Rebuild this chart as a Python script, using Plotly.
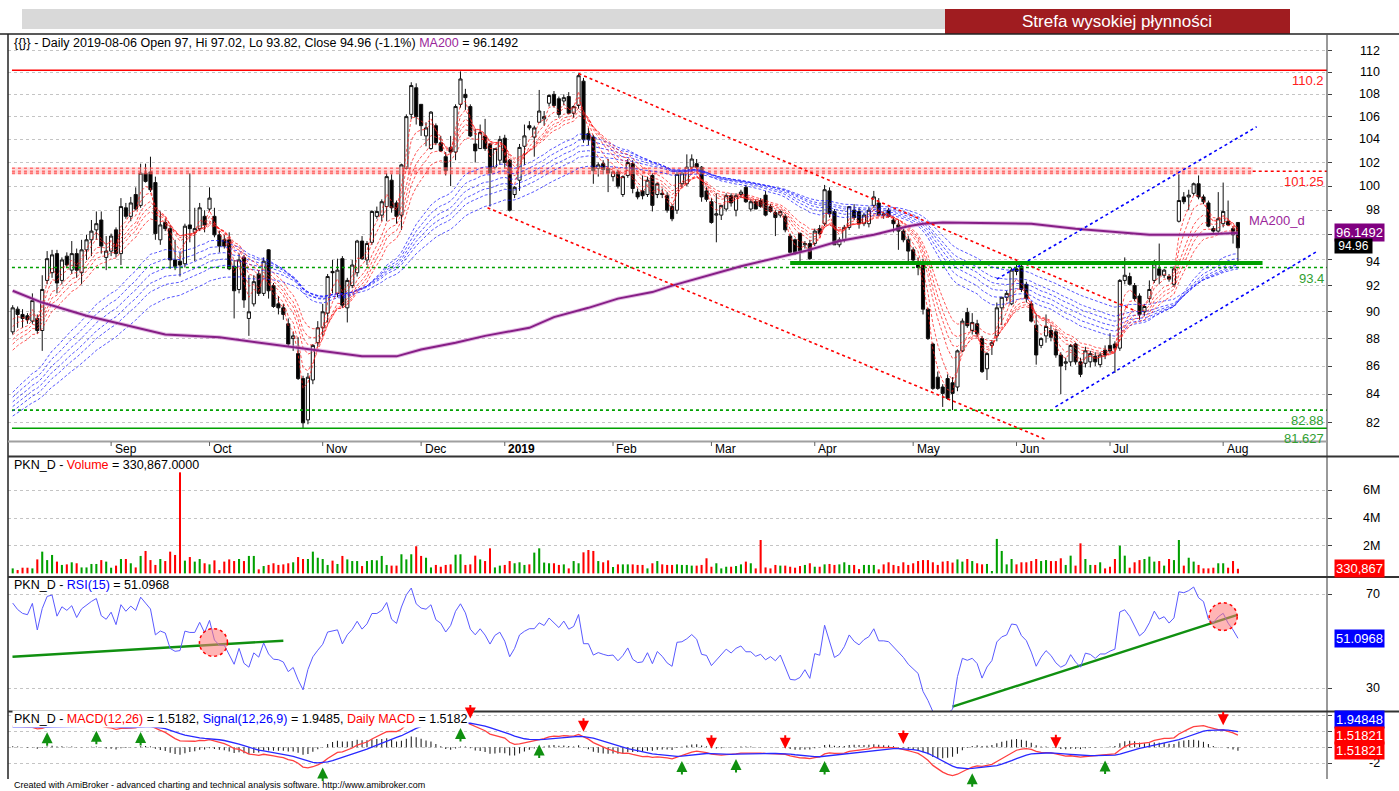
import math
import pandas as pd
import plotly.graph_objects as go

W, H = 1399, 791

# ------------------------------------------------------------------ data
open_ = [
 88.5, 90.2, 89.8, 89.7, 89.3, 89.5, 88.6, 92.4, 93.0, 94.5,
 92.4, 94.3, 93.2, 94.5, 93.0, 94.8, 95.6, 96.4, 97.2, 94.2,
 94.7, 96.4, 94.5, 98.2, 97.5, 99.3, 98.4, 101.1, 101.2, 100.3,
 95.6, 97.0, 96.5, 94.0, 93.9, 93.7, 96.8, 96.2, 96.5, 97.5,
 98.1, 97.5, 96.0, 95.6, 95.6, 93.5, 91.7, 94.2, 89.5, 90.6,
 92.9, 91.4, 94.8, 92.0, 90.6, 90.3, 89.1, 88.0, 86.9, 85.1,
 82.2, 85.0, 87.7, 88.8, 89.9, 93.1, 91.4, 94.1, 90.3, 92.0,
 93.0, 95.5, 94.0, 95.4, 97.5, 97.6, 98.3, 100.5, 98.6, 97.6,
 101.5, 106.2, 108.6, 107.1, 104.3, 103.2, 105.2, 103.7, 102.5, 103.3,
 102.9, 107.1, 108.0, 106.9, 103.6, 103.2, 104.3, 103.6, 101.6, 102.2,
 104.1, 102.2, 99.3, 100.5, 103.4, 105.2, 104.2, 105.5, 105.8, 107.2,
 108.0, 107.6, 107.4, 107.8, 106.3, 107.0, 109.2, 104.5, 104.2, 101.5,
 101.9, 101.5, 100.8, 101.2, 99.3, 100.9, 101.9, 99.5, 99.6, 99.3,
 100.9, 99.3, 99.4, 99.2, 98.3, 98.0, 100.2, 100.2, 101.6, 101.9,
 101.6, 99.6, 98.7, 97.6, 97.6, 98.1, 99.2, 98.0, 99.3, 99.9,
 98.1, 98.7, 98.8, 99.25, 98.3, 97.8, 97.6, 97.5, 95.9, 95.6,
 96.1, 95.2, 95.3, 95.3, 96.5, 96.9, 99.6, 97.9, 95.2, 95.6,
 96.6, 98.0, 97.9, 96.9, 96.9, 98.4, 98.6, 97.7, 98.0, 97.2,
 96.8, 96.3, 95.6, 94.8, 93.8, 93.8, 90.2, 87.6, 85.2, 84.5,
 85.1, 84.8, 84.5, 87.1, 89.95, 88.6, 89.1, 88.0, 85.8, 87.5,
 88.2, 90.3, 91.1, 90.6, 93.3, 93.5, 92.1, 90.6, 89.0, 87.5,
 88.2, 88.6, 88.5, 86.8, 86.2, 86.3, 87.6, 86.3, 86.2, 86.3,
 86.7, 86.1, 87.15, 87.5, 87.6, 87.3, 92.4, 92.7, 92.0, 91.2,
 90.0, 91.0, 92.4, 93.3, 92.8, 92.7, 92.1, 97.1, 99.1, 99.1,
 99.4, 100.2, 99.1, 98.6, 96.5, 96.3, 96.9, 97.1, 96.5, 97.0,
]
high = [
 90.5, 90.4, 90.2, 89.9, 91.4, 89.8, 92.8, 94.7, 94.8, 94.8,
 94.2, 94.6, 95.5, 94.9, 95.6, 96.0, 97.2, 97.9, 97.9, 95.9,
 96.1, 96.6, 99.0, 98.6, 99.1, 99.9, 101.9, 101.9, 102.5, 100.8,
 97.9, 97.3, 96.8, 95.6, 94.6, 96.9, 101.1, 98.2, 98.6, 98.0,
 99.9, 98.2, 96.3, 96.0, 96.2, 94.0, 94.5, 94.4, 92.8, 92.8,
 93.2, 94.2, 94.85, 92.2, 91.2, 90.6, 89.5, 88.5, 88.1, 85.3,
 85.5, 87.6, 89.3, 90.6, 92.9, 94.0, 94.1, 94.3, 92.6, 94.0,
 95.6, 95.9, 95.5, 98.0, 98.3, 98.9, 101.1, 101.0, 98.8, 101.9,
 106.2, 109.1, 109.0, 107.1, 105.5, 106.5, 105.4, 104.3, 102.9, 104.3,
 107.1, 110.1, 108.5, 107.1, 104.9, 105.3, 105.8, 103.7, 103.2, 104.3,
 104.4, 102.3, 100.0, 103.6, 105.3, 105.6, 105.2, 108.4, 106.5, 108.0,
 108.3, 107.8, 108.0, 108.2, 107.0, 109.9, 109.5, 105.0, 104.4, 102.0,
 102.2, 102.3, 101.3, 101.4, 100.9, 102.3, 102.2, 99.8, 100.9, 100.8,
 101.1, 100.3, 99.8, 99.5, 98.5, 101.2, 101.2, 102.7, 102.7, 102.3,
 101.7, 99.9, 99.0, 99.4, 98.4, 99.4, 99.4, 99.4, 99.7, 100.1,
 98.9, 98.9, 99.0, 99.6, 98.5, 98.0, 98.0, 97.7, 96.1, 95.7,
 96.2, 95.5, 95.6, 96.5, 96.8, 100.1, 99.9, 98.1, 95.8, 96.8,
 98.3, 98.5, 98.2, 97.8, 98.3, 99.6, 99.0, 97.9, 98.2, 97.4,
 97.2, 96.5, 95.9, 95.0, 94.2, 94.1, 90.3, 87.7, 85.6, 84.7,
 85.4, 85.2, 87.2, 89.5, 90.3, 89.9, 89.4, 88.2, 87.0, 87.9,
 90.7, 91.1, 91.6, 93.4, 93.9, 93.8, 92.3, 90.8, 89.8, 88.1,
 89.8, 89.0, 88.7, 87.0, 86.6, 87.6, 87.7, 86.6, 87.4, 87.1,
 87.0, 87.0, 87.5, 88.4, 87.8, 92.5, 94.2, 93.0, 92.2, 91.4,
 90.6, 92.4, 94.0, 95.3, 93.3, 92.9, 93.5, 101.0, 99.5, 99.7,
 100.3, 100.9, 99.3, 98.8, 96.7, 99.5, 100.3, 98.8, 96.7, 97.02,
]
low = [
 88.3, 88.8, 88.8, 89.1, 89.1, 88.35, 87.1, 92.1, 92.6, 91.4,
 92.1, 93.4, 92.9, 92.6, 92.1, 94.0, 94.3, 95.6, 94.5, 93.2,
 94.3, 94.2, 93.6, 97.3, 97.1, 98.0, 98.2, 100.3, 99.5, 95.6,
 95.2, 96.3, 93.3, 93.2, 92.7, 93.4, 95.4, 93.9, 96.3, 96.2,
 97.9, 95.8, 94.6, 94.9, 93.2, 89.5, 91.4, 90.3, 88.2, 90.4,
 91.2, 91.2, 91.0, 90.3, 89.8, 89.4, 87.4, 87.1, 85.0, 81.627,
 81.9, 84.7, 87.4, 88.2, 89.2, 91.4, 91.1, 90.3, 89.2, 91.8,
 92.7, 94.0, 93.6, 95.2, 97.3, 97.1, 97.1, 97.8, 96.9, 96.4,
 101.4, 105.8, 105.3, 104.3, 103.4, 103.1, 103.5, 102.9, 100.9, 100.0,
 102.2, 106.8, 106.6, 104.2, 102.0, 103.2, 103.0, 98.3, 101.4, 101.8,
 101.5, 97.9, 99.0, 99.6, 101.8, 104.8, 102.5, 105.5, 105.2, 106.9,
 106.8, 105.9, 107.0, 106.2, 105.9, 106.7, 103.7, 103.5, 100.2, 100.8,
 101.0, 99.5, 100.4, 99.8, 99.1, 100.7, 99.4, 98.9, 98.9, 99.1,
 97.9, 99.0, 99.0, 97.8, 97.1, 97.7, 99.9, 100.0, 101.2, 101.4,
 98.7, 98.7, 96.9, 95.4, 97.2, 97.9, 98.3, 97.5, 99.0, 98.6,
 97.9, 98.1, 98.2, 97.5, 97.8, 95.9, 97.4, 96.2, 94.5, 94.4,
 93.7, 94.9, 94.0, 95.1, 96.0, 96.7, 97.4, 95.2, 95.0, 95.4,
 96.4, 97.2, 96.5, 96.7, 96.6, 98.2, 97.5, 97.3, 97.4, 96.2,
 94.8, 95.4, 93.9, 93.7, 92.8, 89.8, 87.9, 84.3, 84.3, 83.1,
 83.6, 82.88, 84.2, 87.0, 88.8, 88.3, 88.1, 85.5, 85.0, 86.8,
 87.8, 89.0, 90.8, 90.5, 92.8, 91.5, 90.7, 89.2, 86.1, 87.3,
 87.7, 87.8, 86.6, 84.0, 85.7, 86.0, 86.1, 85.2, 85.9, 85.9,
 86.0, 85.9, 86.5, 86.9, 85.5, 87.1, 92.1, 92.0, 90.8, 89.4,
 89.7, 90.7, 92.2, 92.1, 92.6, 92.3, 91.9, 97.0, 98.5, 98.0,
 99.2, 98.9, 98.5, 96.6, 96.1, 96.0, 96.6, 96.7, 95.3, 93.82,
]
close = [
 90.3, 89.8, 89.5, 89.4, 90.85, 88.6, 91.7, 94.1, 94.4, 92.2,
 94.0, 93.6, 94.5, 93.2, 94.8, 95.6, 96.3, 96.9, 95.1, 94.7,
 95.9, 94.5, 98.3, 97.5, 98.6, 98.1, 101.1, 100.4, 99.7, 96.1,
 96.8, 96.5, 94.0, 93.5, 93.6, 96.7, 96.5, 96.5, 98.2, 96.8,
 99.0, 96.0, 95.1, 95.1, 93.3, 91.6, 94.0, 90.9, 90.0, 92.3,
 91.4, 93.9, 91.6, 90.4, 90.3, 89.8, 87.6, 88.2, 85.1, 82.0,
 85.2, 87.5, 88.8, 90.0, 92.7, 93.0, 93.2, 90.5, 92.4, 93.6,
 95.5, 94.1, 95.3, 97.9, 97.9, 98.7, 100.8, 98.2, 97.5, 101.8,
 106.0, 108.8, 106.0, 105.2, 105.0, 106.4, 103.7, 103.0, 101.3, 102.9,
 106.9, 109.4, 107.7, 104.3, 103.0, 104.6, 103.2, 101.1, 103.2, 104.0,
 102.0, 98.0, 99.9, 103.3, 104.3, 105.0, 105.0, 106.5, 106.0, 107.9,
 107.0, 106.2, 107.7, 106.3, 106.9, 109.7, 104.0, 104.0, 101.3, 101.8,
 101.4, 101.1, 101.2, 100.0, 100.8, 102.0, 99.8, 99.1, 99.2, 100.5,
 98.4, 100.2, 99.3, 98.0, 97.3, 101.0, 101.1, 101.6, 102.3, 101.6,
 99.1, 98.9, 97.0, 97.7, 98.4, 99.2, 98.6, 99.2, 99.5, 98.7,
 98.7, 98.1, 98.3, 97.6, 97.9, 97.4, 97.9, 96.4, 94.6, 94.5,
 94.7, 95.3, 94.1, 96.3, 96.1, 99.7, 97.7, 95.2, 95.6, 96.6,
 98.3, 97.4, 96.9, 97.6, 98.0, 99.1, 97.6, 97.6, 97.5, 96.9,
 96.3, 95.6, 94.7, 94.0, 93.4, 90.2, 88.0, 84.4, 84.4, 84.05,
 83.7, 84.05, 87.1, 89.3, 88.96, 89.2, 88.35, 85.6, 86.9, 87.7,
 90.3, 91.1, 91.4, 93.2, 93.1, 91.7, 91.0, 89.3, 86.8, 88.0,
 88.9, 88.1, 86.8, 86.0, 86.3, 87.5, 86.3, 85.4, 87.1, 86.9,
 86.3, 86.8, 86.8, 87.1, 87.3, 92.4, 92.8, 92.1, 91.0, 89.8,
 90.4, 91.7, 93.7, 92.8, 93.2, 92.5, 93.3, 98.8, 98.7, 99.25,
 100.2, 99.1, 98.7, 96.7, 96.3, 97.3, 97.9, 96.8, 96.0, 94.96,
]
# volume in millions of shares
volume_m = [
 0.36, 0.24, 0.41, 0.41, 0.36, 1.01, 1.57, 0.96, 1.33, 0.85,
 0.61, 0.65, 0.80, 0.73, 0.43, 0.43, 0.68, 0.68, 0.96, 0.85,
 0.41, 0.56, 1.04, 1.04, 0.73, 0.43, 1.26, 1.62, 0.96, 0.61,
 1.04, 0.89, 1.57, 1.33, 7.30, 0.92, 1.18, 0.85, 1.04, 0.73,
 0.65, 0.94, 0.24, 0.85, 1.01, 0.89, 1.04, 0.89, 1.26, 1.26,
 0.29, 0.53, 0.61, 0.73, 0.61, 0.65, 0.73, 0.80, 1.18, 1.04,
 1.04, 1.57, 1.13, 1.04, 0.61, 0.92, 0.68, 1.26, 1.01, 0.89,
 0.89, 0.53, 0.89, 0.96, 0.94, 1.26, 0.61, 0.56, 0.56, 1.38,
 1.01, 1.38, 1.96, 1.26, 1.13, 0.43, 0.61, 0.48, 0.61, 0.65,
 1.35, 1.38, 0.61, 0.65, 1.28, 1.01, 0.89, 1.81, 0.43, 0.56,
 0.61, 0.89, 0.73, 0.80, 0.61, 0.65, 1.50, 1.81, 0.78, 0.73,
 0.73, 0.61, 0.65, 0.36, 0.89, 0.73, 1.52, 1.69, 1.62, 0.89,
 0.80, 0.94, 0.46, 0.65, 0.65, 0.65, 0.65, 0.61, 0.61, 0.36,
 0.73, 0.89, 0.65, 0.61, 0.61, 0.65, 0.61, 0.61, 0.56, 0.56,
 0.61, 1.09, 0.48, 0.73, 0.36, 0.48, 0.48, 0.53, 0.65, 0.85,
 0.73, 0.36, 2.41, 0.43, 0.36, 0.61, 0.56, 0.56, 0.48, 0.41,
 0.53, 0.61, 0.73, 0.48, 0.48, 0.65, 0.68, 0.61, 0.65, 0.80,
 0.61, 0.61, 0.31, 0.61, 0.61, 0.61, 0.29, 0.65, 0.80, 0.61,
 0.53, 0.80, 0.61, 0.73, 0.89, 0.96, 0.96, 0.80, 0.61, 0.85,
 0.89, 0.78, 1.01, 0.85, 1.04, 0.89, 0.73, 0.65, 0.68, 0.17,
 2.49, 1.62, 0.65, 1.04, 0.65, 0.80, 0.80, 0.89, 1.04, 0.89,
 0.96, 0.89, 0.89, 1.09, 0.61, 1.28, 0.56, 2.17, 1.04, 0.61,
 0.61, 0.80, 0.36, 0.48, 1.04, 2.00, 1.28, 0.41, 0.80, 0.96,
 1.04, 1.21, 0.85, 0.89, 0.56, 1.04, 0.96, 2.41, 0.56, 1.13,
 0.85, 0.61, 0.36, 0.36, 0.41, 0.73, 0.73, 0.41, 0.89, 0.330867,
]
# 200-day moving average, read at sample bars
ma200_idx = [0, 6, 15, 25, 31, 42, 52, 65, 71, 78, 83, 90, 96, 105, 110, 117,
             123, 130, 134, 148, 161, 168, 175, 182, 185, 189, 195, 207, 216,
             223, 231, 240, 249]
ma200_val = [91.6, 90.7, 89.7, 88.8, 88.3, 88.1, 87.6, 87.0, 86.7, 86.7, 87.2,
             87.7, 88.2, 88.8, 89.6, 90.3, 91.0, 91.5, 92.0, 93.5, 94.7, 95.5,
             96.0, 96.7, 96.9, 97.0, 96.95, 96.9, 96.5, 96.27, 96.0, 96.0, 96.1492]

HOLIDAYS = ["2018-08-15", "2018-11-01", "2018-11-12", "2018-12-24", "2018-12-25",
            "2018-12-26", "2018-12-31", "2019-01-01", "2019-04-19", "2019-04-22",
            "2019-05-01", "2019-05-03", "2019-06-20"]
FIRST_DAY, LAST_DAY = "2018-08-03", "2019-08-06"

# indicator seeds (values at the left edge of the picture)
RED_EMA = {3: 88.6, 5: 88.2, 8: 87.7, 10: 87.4, 12: 87.1, 15: 86.7}
BLUE_EMA = {30: 83.7, 35: 83.4, 40: 83.1, 45: 82.8, 50: 82.5, 60: 82.2}
MACD_SEED = (87.1, 84.5, 2.5)       # ema12, ema26, signal
RSI_SEED = (0.55, 0.28)             # avg gain, avg loss

# drawn levels / lines (bar index, price)
LEVEL_TOP = 110.2
BAND = (101.0, 101.25, 101.6, 252.0)      # low, label, high, end bar
SUPPORT_DOT = 93.4
LOW_DOT = 82.88
LOW_SOLID = 81.627
GREEN_THICK = (158, 254, 93.75)
RED_TRENDS = [(115, 109.9, 228, 90.1), (96.5, 98.2, 210, 80.85)]
BLUE_TRENDS = [(200, 92.5, 252.8, 105.1), (211.9, 83.1, 265, 94.66)]
RSI_TRENDS = [(-0.04, 43.45, 55.0, 50.26), (191.0, 22.2, 248.9, 61.2)]
RSI_CIRCLES = [(40.8, 49.5), (246.0, 60.5)]
MACD_BUY = [7, 17, 26, 63, 91, 107, 136, 147, 165, 195, 222]
MACD_SELL = [93, 116, 142, 157, 181, 212, 246]
LAST_RSI, LAST_SIGNAL, LAST_MACD = 51.0968, 1.94848, 1.51821

# ------------------------------------------------------------------ derived
n = len(close)
idx = list(range(n))


def ema(vals, span, seed):
    k = 2.0 / (span + 1)
    e, out = seed, []
    for v in vals:
        e += k * (v - e)
        out.append(e)
    return out


def rsi(vals, period, ag, al):
    out = []
    for i, v in enumerate(vals):
        if i > 0:
            d = v - vals[i - 1]
            ag = (ag * (period - 1) + max(d, 0)) / period
            al = (al * (period - 1) + max(-d, 0)) / period
        out.append(100 - 100 / (1 + ag / al) if al > 0 else 100)
    return out


e12 = ema(close, 12, MACD_SEED[0])
e26 = ema(close, 26, MACD_SEED[1])
macd = [a - b for a, b in zip(e12, e26)]
signal = ema(macd, 9, MACD_SEED[2])
hist = [a - b for a, b in zip(macd, signal)]
rsi_v = rsi(close, 15, *RSI_SEED)

days = [d for d in pd.bdate_range(FIRST_DAY, LAST_DAY) if d.strftime("%Y-%m-%d") not in HOLIDAYS]
month_starts = []
if len(days) == n:
    for i in range(1, n):
        if days[i].month != days[i - 1].month:
            lab = days[i].strftime("%b") if days[i].month != 1 else "<b>%d</b>" % days[i].year
            month_starts.append((i, lab))

# ------------------------------------------------------------------ layout helpers
FONT = "Liberation Sans, Arial, sans-serif"
X0P, X1P = 8, 1327
XR = [-0.955, 267.1]


def px(x):
    return x / W


def py(y):
    return 1 - y / H


DOM_P = [py(441), py(35)]
DOM_V = [py(576), py(456)]
DOM_R = [py(711), py(577)]
DOM_M = [py(779), py(712)]
PR = [math.log10(80.76), math.log10(113.51)]
VR = [-0.19, 8.48]
RR = [20.34, 77.36]
MR = [-3.96, 4.41]

fig = go.Figure()
L = lambda **k: dict(showlegend=False, hoverinfo="skip", **k)

xe = XR[1]
# band
fig.add_trace(go.Scatter(x=[-0.15, BAND[3], BAND[3], -0.15, -0.15],
                         y=[BAND[0], BAND[0], BAND[2], BAND[2], BAND[0]],
                         fill="toself", fillcolor="rgba(255,175,175,0.45)",
                         line=dict(width=0), mode="lines", **L()))
for lv in (BAND[0] + 0.07, BAND[1], BAND[2] - 0.09):
    fig.add_trace(go.Scatter(x=[-0.15, BAND[3]], y=[lv, lv], mode="lines",
                             line=dict(color="rgba(255,40,40,0.6)", width=1.7, dash="dot"), **L()))
fig.add_trace(go.Scatter(x=[BAND[3], xe], y=[BAND[1], BAND[1]], mode="lines",
                         line=dict(color="#ff0000", width=1.5, dash="dot"), **L()))
fig.add_trace(go.Scatter(x=[-0.15, xe], y=[LEVEL_TOP, LEVEL_TOP], mode="lines",
                         line=dict(color="#ff0000", width=1.6), **L()))
for lv in (SUPPORT_DOT, LOW_DOT):
    fig.add_trace(go.Scatter(x=[-0.15, xe], y=[lv, lv], mode="lines",
                             line=dict(color="#00a000", width=1.6, dash="dot"), **L()))
fig.add_trace(go.Scatter(x=[-0.15, xe], y=[LOW_SOLID, LOW_SOLID], mode="lines",
                         line=dict(color="#00a000", width=1.6), **L()))

# GMMA ribbons
for span, seed in BLUE_EMA.items():
    fig.add_trace(go.Scatter(x=idx, y=ema(close, span, seed), mode="lines",
                             line=dict(color="rgba(30,30,255,0.75)", width=1, dash="3px,2px"), **L()))
for span, seed in RED_EMA.items():
    fig.add_trace(go.Scatter(x=idx, y=ema(close, span, seed), mode="lines",
                             line=dict(color="rgba(255,30,30,0.75)", width=1, dash="3px,2px"), **L()))
# MA200
fig.add_trace(go.Scatter(x=ma200_idx, y=ma200_val, mode="lines",
                         line=dict(color="rgba(200,120,200,0.5)", width=4), **L()))
fig.add_trace(go.Scatter(x=ma200_idx, y=ma200_val, mode="lines",
                         line=dict(color="#861e86", width=2), **L()))
# trend lines
for (a, b, c, d) in RED_TRENDS:
    fig.add_trace(go.Scatter(x=[a, c], y=[b, d], mode="lines",
                             line=dict(color="#ff0000", width=1.6, dash="dot"), **L()))
for (a, b, c, d) in BLUE_TRENDS:
    fig.add_trace(go.Scatter(x=[a, c], y=[b, d], mode="lines",
                             line=dict(color="#0000ff", width=1.6, dash="dot"), **L()))
fig.add_trace(go.Scatter(x=[GREEN_THICK[0], GREEN_THICK[1]], y=[GREEN_THICK[2]] * 2, mode="lines",
                         line=dict(color="#00a000", width=4), **L()))
# candles
fig.add_trace(go.Candlestick(x=idx, open=open_, high=high, low=low, close=close,
                             increasing=dict(line=dict(color="#111111", width=1), fillcolor="#ffffff"),
                             decreasing=dict(line=dict(color="#111111", width=1), fillcolor="#000000"),
                             whiskerwidth=0, xaxis="x", yaxis="y", showlegend=False, hoverinfo="skip"))

# volume
vcol = ["#00a000" if c >= o else "#ff0000" for o, c in zip(open_, close)]
fig.add_trace(go.Bar(x=idx, y=volume_m, marker=dict(color=vcol, line=dict(width=0)), width=0.42,
                     xaxis="x2", yaxis="y2", **L()))

# RSI
for (a, b, c, d) in RSI_TRENDS:
    fig.add_trace(go.Scatter(x=[a, c], y=[b, d], mode="lines", line=dict(color="#109010", width=2.4),
                             xaxis="x3", yaxis="y3", **L()))
fig.add_trace(go.Scatter(x=idx, y=rsi_v, mode="lines", line=dict(color="#5a5aff", width=1),
                         xaxis="x3", yaxis="y3", **L()))

# MACD
fig.add_trace(go.Bar(x=idx, y=hist, marker=dict(color="#222222", line=dict(width=0)), width=0.22,
                     xaxis="x4", yaxis="y4", **L()))
fig.add_trace(go.Scatter(x=idx, y=macd, mode="lines", line=dict(color="#ff4040", width=1.3),
                         xaxis="x4", yaxis="y4", **L()))
fig.add_trace(go.Scatter(x=idx, y=signal, mode="lines", line=dict(color="#2828ff", width=1.3),
                         xaxis="x4", yaxis="y4", **L()))

# ------------------------------------------------------------------ axes
xa = dict(range=XR, domain=[px(X0P), px(X1P)], showgrid=False, zeroline=False,
          showticklabels=False, ticks="", showline=False, fixedrange=True)
grid = dict(showgrid=True, gridcolor="#c4c4c4", griddash="dot", gridwidth=1, zeroline=False,
            showticklabels=False, ticks="outside", ticklen=4, tickcolor="#404040",
            showline=False, side="right", fixedrange=True)
fig.update_layout(
    width=W, height=H, margin=dict(l=0, r=0, t=0, b=0),
    paper_bgcolor="white", plot_bgcolor="white",
    boxgap=0.2, boxgroupgap=0.2,
    xaxis=dict(xa, anchor="y", rangeslider=dict(visible=False)),
    xaxis2=dict(xa, anchor="y2", matches="x"),
    xaxis3=dict(xa, anchor="y3", matches="x"),
    xaxis4=dict(xa, anchor="y4", matches="x"),
    yaxis=dict(grid, type="log", range=PR, domain=DOM_P, anchor="x",
               tickvals=list(range(82, 113, 2))),
    yaxis2=dict(grid, range=VR, domain=DOM_V, anchor="x2", tickvals=[2, 4, 6]),
    yaxis3=dict(grid, range=RR, domain=DOM_R, anchor="x3", tickvals=[30, 70]),
    yaxis4=dict(grid, range=MR, domain=DOM_M, anchor="x4", tickvals=[-2, 0, 2, 4]),
    font=dict(family=FONT, size=12, color="black"),
)

shapes = []


def pline(x0, y0, x1, y1, color="black", width=1):
    shapes.append(dict(type="line", xref="paper", yref="paper", x0=px(x0), x1=px(x1),
                       y0=py(y0), y1=py(y1), line=dict(color=color, width=width)))


# header
shapes.append(dict(type="rect", xref="paper", yref="paper", x0=px(22), x1=px(945), y0=py(29), y1=py(9),
                   fillcolor="#d9d9d9", line=dict(width=0)))
shapes.append(dict(type="rect", xref="paper", yref="paper", x0=px(945), x1=px(1290), y0=py(34), y1=py(9),
                   fillcolor="#a01c20", line=dict(width=0)))
# frame
pline(0, 34, W, 34, "#222", 1.5)
pline(8, 34, 8, 779, "#222", 1.5)
pline(X1P, 34, X1P, 779, "#555", 1.2)
for yy in (456.5, 577, 711.5):
    pline(8, yy, W, yy, "#333", 1.8)
pline(8, 441.5, X1P, 441.5, "#a0a0a0", 2)
for i, lab in month_starts:
    shapes.append(dict(type="line", xref="x", yref="paper", x0=i, x1=i, y0=py(442), y1=py(446),
                       line=dict(color="#606060", width=1)))
# RSI circles
for (ci, cv) in RSI_CIRCLES:
    shapes.append(dict(type="circle", xref="x3", yref="y3", x0=ci - 2.85, x1=ci + 2.85,
                       y0=cv - 5.9, y1=cv + 5.9, fillcolor="rgba(255,120,120,0.55)",
                       line=dict(color="#ff0000", width=1.5, dash="dot")))
fig.update_layout(shapes=shapes)

ann = []


def text(x, y, t, size=12.5, color="black", xanchor="left", yanchor="middle", **kw):
    ann.append(dict(x=px(x), y=py(y), xref="paper", yref="paper", text=t, showarrow=False,
                    xanchor=xanchor, yanchor=yanchor, font=dict(size=size, color=color, family=FONT), **kw))


def fmt(v):
    return ("%.2f" % v).rstrip("0").rstrip(".")


chg = (close[-1] / close[-2] - 1) * 100
title_p = ("{{}} - Daily " + days[-1].strftime("%Y-%m-%d") + " Open " + fmt(open_[-1]) + ", Hi " + fmt(high[-1]) +
           ", Lo " + fmt(low[-1]) + ", Close " + fmt(close[-1]) + " (%.1f%%) " % chg +
           "<span style='color:#9a259a'>MA200</span> = %.4f" % ma200_val[-1])
text(12, 42.5, title_p)
text(12, 464.5, "PKN_D - <span style='color:#ff0000'>Volume</span> = {:,.4f}".format(volume_m[-1] * 1e6))
text(12, 585, "PKN_D - <span style='color:#0000ff'>RSI(15)</span> = %.4f" % LAST_RSI)
text(12, 719, "PKN_D - <span style='color:#ff0000'>MACD(12,26)</span> = %.4f, "
              "<span style='color:#0000ff'>Signal(12,26,9)</span> = %.4f, "
              "<span style='color:#ff0000'>Daily MACD</span> = %.4f" % (LAST_MACD, LAST_SIGNAL, LAST_MACD),
     bgcolor="white")
text(12, 785, "Created with AmiBroker - advanced charting and technical analysis software. http://www.amibroker.com",
     size=9)
text(1117, 21.5, "Strefa wysokiej płynności", size=17, color="white", xanchor="center")

for i, lab in month_starts:
    ann.append(dict(x=i + 0.3, y=py(449), xref="x", yref="paper", text=lab, showarrow=False,
                    xanchor="left", yanchor="middle", font=dict(size=12, color="black", family=FONT)))

# right axis labels (the 96 label sits under the MA200 value box, as in the picture)
for v in range(82, 113, 2):
    if v == 96:
        continue
    ann.append(dict(x=px(1382), y=math.log10(v), xref="paper", yref="y", text=str(v), showarrow=False,
                    xanchor="right", yanchor="middle", yshift=(-2 if v == 94 else 0),
                    font=dict(size=12.5, family=FONT)))
for v in (2, 4, 6):
    ann.append(dict(x=px(1382), y=v, xref="paper", yref="y2", text="%dM" % v, showarrow=False,
                    xanchor="right", yanchor="middle", font=dict(size=12.5, family=FONT)))
for v in (30, 70):
    ann.append(dict(x=px(1382), y=v, xref="paper", yref="y3", text=str(v), showarrow=False,
                    xanchor="right", yanchor="middle", font=dict(size=12.5, family=FONT)))
ann.append(dict(x=px(1382), y=-2, xref="paper", yref="y4", text="-2", showarrow=False,
                xanchor="right", yanchor="middle", font=dict(size=12.5, family=FONT)))

# level labels
for lv, t, col in ((LEVEL_TOP, "110.2", "#ff2020"), (BAND[1], "101.25", "#ff2020"),
                   (SUPPORT_DOT, "93.4", "#30a030"), (LOW_DOT, "82.88", "#30a030"),
                   (LOW_SOLID, "81.627", "#30a030")):
    ann.append(dict(x=px(1326), y=math.log10(lv), xref="paper", yref="y", text=t, showarrow=False,
                    xanchor="right", yanchor="top", yshift=-1, font=dict(size=13, color=col, family=FONT)))
ann.append(dict(x=n + 0.8, y=math.log10(ma200_val[-1]), xref="x", yref="y", text="MA200_d",
                showarrow=False, xanchor="left", yanchor="bottom", yshift=3,
                font=dict(size=13, color="#9a259a", family=FONT)))


def vbox(v, yref, t, bg, yshift=0, size=13, pad=1):
    ann.append(dict(x=px(1334), y=v, xref="paper", yref=yref, text=t, showarrow=False,
                    xanchor="left", yanchor="middle", yshift=yshift, bgcolor=bg, borderpad=pad,
                    font=dict(size=size, color="white", family=FONT)))


vbox(math.log10(ma200_val[-1]), "y", "96.1492", "#800080")
vbox(math.log10(close[-1]), "y", " 94.96 ", "#000000", yshift=2, size=12, pad=0)
vbox(volume_m[-1], "y2", "330,867", "#ff0000")
vbox(LAST_RSI, "y3", "51.0968", "#0000ff")
vbox(LAST_SIGNAL, "y4", "1.94848", "#0000ff", yshift=12)
vbox(LAST_MACD, "y4", "1.51821", "#ff0000")
vbox(LAST_MACD, "y4", "1.51821", "#ff0000", yshift=-15)

# MACD crossover arrows
for i in MACD_BUY:
    ann.append(dict(x=i, y=min(macd[i], signal[i]) - 0.6, xref="x4", yref="y4", text="", showarrow=True,
                    ax=0, ay=15, arrowhead=2, arrowsize=1.1, arrowwidth=2, arrowcolor="#109010"))
for i in MACD_SELL:
    ann.append(dict(x=i, y=max(macd[i], signal[i]) + 0.6, xref="x4", yref="y4", text="", showarrow=True,
                    ax=0, ay=-15, arrowhead=2, arrowsize=1.1, arrowwidth=2, arrowcolor="#ff0000"))

fig.update_layout(annotations=ann)

fig.write_html("out.html", include_plotlyjs=True, full_html=True,
               config={"displayModeBar": False, "staticPlot": True},
               post_script="document.body.style.margin='0';document.body.style.overflow='hidden';")
